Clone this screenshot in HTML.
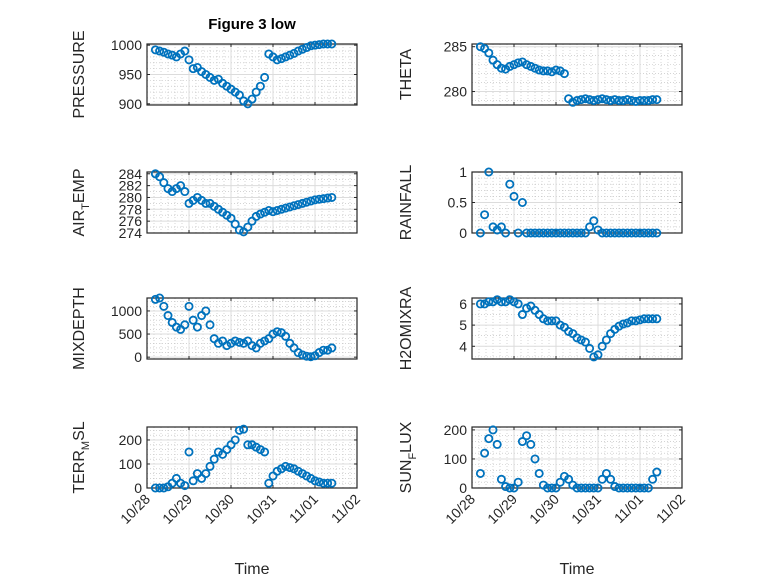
<!DOCTYPE html>
<html><head><meta charset="utf-8"><style>
body{margin:0;background:#fff}
svg{display:block;font-family:"Liberation Sans","DejaVu Sans",sans-serif}
</style></head><body>
<svg id="fig" width="778" height="583" viewBox="0 0 778 583" xmlns="http://www.w3.org/2000/svg">
<rect width="778" height="583" fill="#fff"/>
<text x="252" y="29" font-size="15" font-weight="bold" text-anchor="middle">Figure 3 low</text>
</svg>
<script>
const times=[0.2,0.3,0.4,0.5,0.6,0.7,0.8,0.9,1.0,1.1,1.2,1.3,1.4,1.5,1.6,1.7,1.8,1.9,2.0,2.1,2.2,2.3,2.4,2.5,2.6,2.7,2.8,2.9,3.0,3.1,3.2,3.3,3.4,3.5,3.6,3.7,3.8,3.9,4.0,4.1,4.2,4.3,4.4];
const xTickLabels=["10/28","10/29","10/30","10/31","11/01","11/02"];
const pressure=[992,990,988,985,983,980,985,990,975,960,962,955,950,945,940,942,935,930,925,920,915,905,900,908,920,930,945,985,980,975,977,980,983,986,990,993,996,999,1000,1001,1002,1002,1002];
const theta=[285,284.8,284.3,283.5,283,282.6,282.5,282.8,283,283.2,283.3,283,282.8,282.6,282.4,282.3,282.3,282.2,282.4,282.3,282,279.2,278.8,279,279.1,279.2,279.1,279,279.1,279.2,279.1,279,279.1,279,279,279.1,279,278.9,279,279,279,279.1,279.1];
const airTemp=[284,283.5,282.5,281.5,281,281.5,282,281,279,279.5,280,279.5,279,279,278.5,278,277.5,277,276.5,275.5,274.5,274.2,275,276,276.8,277.2,277.5,277.8,277.6,277.8,278,278.2,278.4,278.6,278.8,279,279.2,279.4,279.6,279.7,279.8,279.9,280];
const rainfall=[0,0.3,1.0,0.1,0.05,0.1,0,0.8,0.6,0,0.5,0,0,0,0,0,0,0,0,0,0,0,0,0,0,0,0.1,0.2,0.05,0,0,0,0,0,0,0,0,0,0,0,0,0,0];
const mixDepth=[1250,1280,1100,900,750,650,600,700,1100,800,650,900,1000,700,400,300,350,250,300,350,320,300,350,250,200,300,350,400,500,550,530,450,300,200,100,50,20,10,30,100,150,150,200];
const h2o=[6.0,6.0,6.1,6.1,6.2,6.1,6.1,6.2,6.1,6.0,5.5,5.8,5.9,5.7,5.5,5.3,5.2,5.2,5.2,5.0,4.9,4.7,4.6,4.4,4.3,4.2,3.9,3.5,3.6,4.0,4.3,4.6,4.8,4.95,5.05,5.1,5.2,5.2,5.25,5.3,5.3,5.3,5.3];
const terrMsl=[0,0,0,5,20,40,20,10,150,30,60,40,60,90,120,150,140,160,180,200,240,245,180,180,170,160,150,20,50,70,80,90,85,80,70,60,50,40,30,25,20,20,20];
const sunFlux=[50,120,170,200,150,30,5,0,0,20,160,180,150,100,50,10,0,0,0,20,40,30,10,0,0,0,0,0,0,30,50,30,5,0,0,0,0,0,0,0,0,30,55];
const NS="http://www.w3.org/2000/svg";
const svg=document.getElementById('fig');
function mk(t,a,p){const e=document.createElementNS(NS,t);for(const k in a)e.setAttribute(k,a[k]);(p||svg).appendChild(e);return e;}
const panels=[
 {name:'pressure',lab:['PRESSURE'],data:pressure,x:147,y:44,ylim:[898,1002],ticks:[900,950,1000],minor:[910,920,930,940,960,970,980,990]},
 {name:'theta',lab:['THETA'],data:theta,x:472,y:44,ylim:[278.5,285.3],ticks:[280,285],minor:[279,281,282,283,284]},
 {name:'air-temp',lab:['AIR','T','EMP'],data:airTemp,x:147,y:172,ylim:[274,284.3],ticks:[274,276,278,280,282,284],minor:[275,277,279,281,283]},
 {name:'rainfall',lab:['RAINFALL'],data:rainfall,x:472,y:172,ylim:[0,1],ticks:[0,0.5,1],minor:[0.1,0.2,0.3,0.4,0.6,0.7,0.8,0.9]},
 {name:'mixdepth',lab:['MIXDEPTH'],data:mixDepth,x:147,y:298,ylim:[-40,1280],ticks:[0,500,1000],minor:[100,200,300,400,600,700,800,900,1100,1200]},
 {name:'h2omixra',lab:['H2OMIXRA'],data:h2o,x:472,y:298,ylim:[3.4,6.28],ticks:[4,5,6],minor:[3.5,4.5,5.5]},
 {name:'terr-msl',lab:['TERR','M','SL'],data:terrMsl,x:147,y:427,ylim:[0,254],ticks:[0,100,200],minor:[20,40,60,80,120,140,160,180,220,240]},
 {name:'sun-flux',lab:['SUN','F','LUX'],data:sunFlux,x:472,y:427,ylim:[0,210],ticks:[0,100,200],minor:[20,40,60,80,120,140,160,180]}
];
const W=210,H=61;
panels.forEach((p,pi)=>{
 const g=mk('g',{});
 
 
 const xs=v=>p.x+v/5*W, ys=v=>p.y+H-(v-p.ylim[0])/(p.ylim[1]-p.ylim[0])*H;
 for(let d=0;d<5;d++)for(let k=1;k<6;k++){const xx=xs(d+k/6);mk('line',{x1:xx,x2:xx,y1:p.y,y2:p.y+H,stroke:'#bbb','stroke-width':0.6,'stroke-dasharray':'1 2'},g);}
 p.minor.forEach(v=>{const yy=ys(v);if(yy>p.y&&yy<p.y+H)mk('line',{x1:p.x,x2:p.x+W,y1:yy,y2:yy,stroke:'#bbb','stroke-width':0.6,'stroke-dasharray':'1 2'},g);});
 for(let d=1;d<5;d++){const xx=xs(d);mk('line',{x1:xx,x2:xx,y1:p.y,y2:p.y+H,stroke:'#dcdcdc','stroke-width':1},g);}
 p.ticks.forEach(v=>{const yy=ys(v);mk('line',{x1:p.x,x2:p.x+W,y1:yy,y2:yy,stroke:'#dcdcdc','stroke-width':1},g);
   mk('line',{x1:p.x,x2:p.x+3,y1:yy,y2:yy,stroke:'#262626'},g);mk('line',{x1:p.x+W,x2:p.x+W-3,y1:yy,y2:yy,stroke:'#262626'},g);
   const t=mk('text',{x:p.x-5,y:yy+5,'font-size':14,'text-anchor':'end',fill:'#262626'},g);t.textContent=String(v);
   
   });
 for(let d=0;d<=5;d++){const xx=xs(d);mk('line',{x1:xx,x2:xx,y1:p.y+H,y2:p.y+H-3,stroke:'#262626'},g);mk('line',{x1:xx,x2:xx,y1:p.y,y2:p.y+3,stroke:'#262626'},g);}
 mk('rect',{x:p.x,y:p.y,width:W,height:H,fill:'none',stroke:'#262626','stroke-width':1.2},g);
 const lx=p.x-63+(pi%2?2:0), ly=p.y+H/2;
 const yl=mk('text',{x:0,y:0,'font-size':16,'text-anchor':'middle',fill:'#262626',transform:`translate(${lx},${ly}) rotate(-90)`},g);
 
 
 if(p.lab.length===1)yl.textContent=p.lab[0];
 else{const a=mk('tspan',{},yl);a.textContent=p.lab[0];const b=mk('tspan',{'font-size':11,dy:5},yl);b.textContent=p.lab[1];const c=mk('tspan',{dy:-5},yl);c.textContent=p.lab[2];}
 p.data.forEach((v,i)=>{const c=mk('circle',{cx:xs(times[i]),cy:ys(v),r:3.6,fill:'none',stroke:'#0072BD','stroke-width':1.8},g);
   
   });
 if(pi>=6){
   xTickLabels.forEach((s,i)=>{const xx=xs(i);const t=mk('text',{x:0,y:0,'font-size':14,'text-anchor':'end',fill:'#262626',transform:`translate(${xx+4},${p.y+H+12}) rotate(-45)`},g);t.textContent=s;
     
     });
   const xt=mk('text',{x:p.x+W/2,y:574,'font-size':16,'text-anchor':'middle',fill:'#262626'},g);xt.textContent='Time';
   
   
 }
});
</script>
</body></html>
